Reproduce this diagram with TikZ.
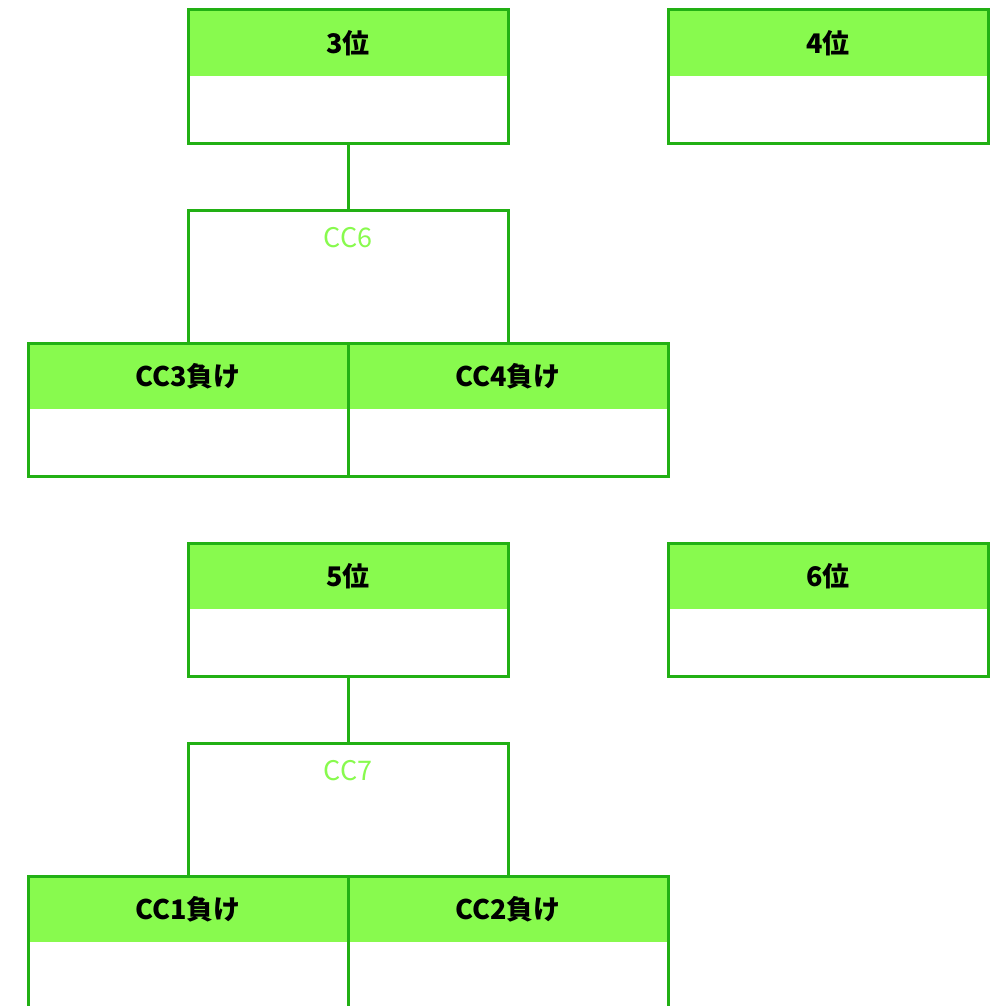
\documentclass[tikz,border=0pt]{standalone}
\usepackage{fontspec}
\setmainfont{Noto Sans CJK JP}
\usepackage{tikz}
\definecolor{cardline}{HTML}{22B014}
\definecolor{cardfill}{HTML}{88FA4E}
\tikzset{
  card/.style={draw=cardline, line width=3pt, minimum width=320pt, minimum height=133pt, inner sep=0pt,
    path picture={\fill[cardfill] (path picture bounding box.north west) rectangle ([yshift=-66pt]path picture bounding box.north east);}},
  headtext/.style={font=\fontsize{27}{32}\selectfont\bfseries, text=black, inner sep=0pt},
  bracket/.style={draw=cardline, line width=3pt, minimum width=320pt, minimum height=133pt, inner sep=0pt},
  cclabel/.style={font=\fontsize{27}{32}\selectfont, text=cardfill, inner sep=0pt},
  link/.style={draw=cardline, line width=3pt}
}
\begin{document}
\begin{tikzpicture}[x=1pt, y=1pt]
        \useasboundingbox (0, 0) rectangle (1003, -1006);
        \node [bracket] (B6) at (348, -276.5) {};
        \node [card] (P3) at (348, -76.5) {};
        \node [card] (P4) at (828, -76.5) {};
        \node [card] (L3) at (188, -409.5) {};
        \node [card] (L4) at (508, -409.5) {};
        \node [headtext] (P3t) at ([yshift=-35pt] P3.north) {3位};
        \node [headtext] (P4t) at ([yshift=-35pt] P4.north) {4位};
        \node [headtext] (L3t) at ([yshift=-35pt] L3.north) {CC3負け};
        \node [headtext] (L4t) at ([yshift=-35pt] L4.north) {CC4負け};
        \node [cclabel] (B6t) at ([yshift=-29pt] B6.north) {CC6};
        \draw [link] (P3) -- (B6);

        \node [bracket] (B7) at (348, -809.5) {};
        \node [card] (P5) at (348, -609.5) {};
        \node [card] (P6) at (828, -609.5) {};
        \node [card] (L1) at (188, -942.5) {};
        \node [card] (L2) at (508, -942.5) {};
        \node [headtext] (P5t) at ([yshift=-35pt] P5.north) {5位};
        \node [headtext] (P6t) at ([yshift=-35pt] P6.north) {6位};
        \node [headtext] (L1t) at ([yshift=-35pt] L1.north) {CC1負け};
        \node [headtext] (L2t) at ([yshift=-35pt] L2.north) {CC2負け};
        \node [cclabel] (B7t) at ([yshift=-29pt] B7.north) {CC7};
        \draw [link] (P5) -- (B7);
\end{tikzpicture}
\end{document}
